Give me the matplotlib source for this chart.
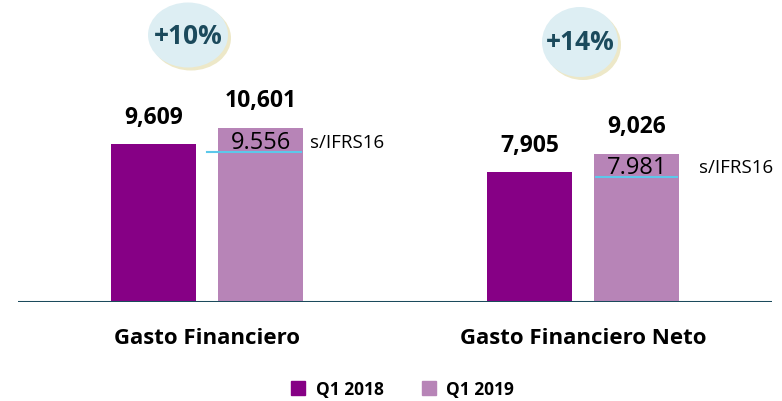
import numpy as np
import matplotlib.pyplot as plt
from matplotlib.patches import Ellipse, Patch

categories = ['Gasto Financiero', 'Gasto Financiero Neto']
q1_2018 = [9609, 7905]
q1_2019 = [10601, 9026]
sin_ifrs16 = [9556, 7981]
growth = ['+10%', '+14%']
series_names = ['Q1 2018', 'Q1 2019']

c2018 = '#860085'
c2019 = '#B784B7'
teal = '#1B4A5C'

plt.rcParams['font.family'] = ['Open Sans', 'DejaVu Sans']

fig = plt.figure(figsize=(7.82, 4.02), dpi=100)
ax = fig.add_axes([18/782, 99/402, 754/782, 303/402])

x = np.arange(len(categories))
w = 0.226
off = 0.1423
ax.bar(x - off, q1_2018, w, color=c2018, zorder=2)
ax.bar(x + off, q1_2019, w, color=c2019, zorder=2)

ax.set_xlim(-0.503, 1.502)
ax.set_ylim(0, 18430)
ax.axis('off')
ax.axhline(0, color=teal, lw=2.2, zorder=3)

# etiquetas de valor
for i in range(len(categories)):
    ax.annotate(f'{q1_2018[i]:,}', (x[i] - off, q1_2018[i]), xytext=(0, 11),
                textcoords='offset points', ha='center', va='bottom',
                fontsize=16.5, fontweight='bold')
    ax.annotate(f'{q1_2019[i]:,}', (x[i] + off, q1_2019[i]), xytext=(0, 11),
                textcoords='offset points', ha='center', va='bottom',
                fontsize=16.5, fontweight='bold')
    # valor sin IFRS16
    dy = 2 if i == 0 else 3
    ax.annotate(f'{sin_ifrs16[i]:,}'.replace(',', '.'), (x[i] + off, sin_ifrs16[i]),
                xytext=(0, dy), textcoords='offset points', ha='center', va='center',
                fontsize=17, zorder=5)
    x0 = x[i] + off - w / 2 + (-0.03 if i == 0 else 0.005)
    x1 = x[i] + off + w / 2 - 0.005
    ax.plot([x0, x1], [sin_ifrs16[i] - 430, sin_ifrs16[i] - 430] if i == 0 else
            [sin_ifrs16[i] - 380, sin_ifrs16[i] - 380],
            color='#5CC8EA', lw=1.5, zorder=4)
    ax.annotate('s/IFRS16', (x[i] + off + w / 2, sin_ifrs16[i]), xytext=(5 if i == 0 else 14, dy),
                textcoords='offset points', ha='left', va='center', fontsize=13.5)
    ax.text(x[i], -2130, categories[i], ha='center', va='center',
            fontsize=16, fontweight='bold')

# burbujas de crecimiento
bubbles = [(188, 36, 80, 65), (580, 43, 76, 70)]
for (cx, cy, bw, bh), g in zip(bubbles, growth):
    fx, fy = cx / 782, 1 - cy / 402
    shadow = Ellipse((fx + 3 / 782, fy - 3 / 402), bw / 782, bh / 402,
                     transform=fig.transFigure, facecolor='#EDE8C8', edgecolor='none')
    e = Ellipse((fx, fy), bw / 782, bh / 402, transform=fig.transFigure,
                facecolor='#DDEEF3', edgecolor='none')
    fig.add_artist(shadow)
    fig.add_artist(e)
    fig.text(fx, fy, g, ha='center', va='center', fontsize=19,
             fontweight='bold', color=teal)

handles = [Patch(color=c2018), Patch(color=c2019)]
fig.legend(handles, series_names, loc='center', bbox_to_anchor=(0.515, 0.03),
           ncol=2, frameon=False, prop={'weight': 'bold', 'size': 12.5},
           handlelength=0.8, handleheight=0.8, columnspacing=2.2, handletextpad=0.6)

fig.savefig('out.png', dpi=100)
